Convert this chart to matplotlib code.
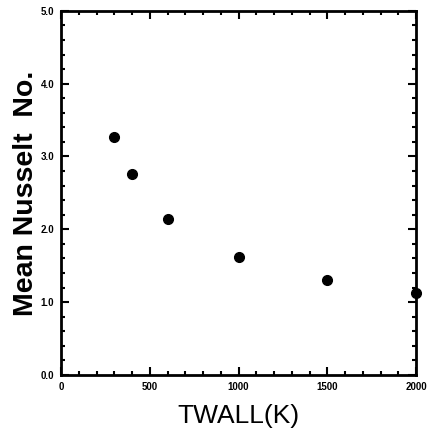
import matplotlib
matplotlib.use("Agg")
import matplotlib.pyplot as plt
from matplotlib.ticker import MultipleLocator

twall = [300, 400, 600, 1000, 1500, 2000]
nusselt = [3.27, 2.76, 2.14, 1.62, 1.30, 1.13]

fig = plt.figure(figsize=(4.33, 4.32), dpi=100)
ax = fig.add_axes([0.141, 0.132, 0.820, 0.843])
ax.plot(twall, nusselt, 'o', color='black', markersize=7, clip_on=False, zorder=5)

ax.set_xlim(0, 2000)
ax.set_ylim(0, 5)
ax.xaxis.set_major_locator(MultipleLocator(500))
ax.xaxis.set_minor_locator(MultipleLocator(100))
ax.yaxis.set_major_locator(MultipleLocator(1.0))
ax.yaxis.set_minor_locator(MultipleLocator(0.2))
ax.yaxis.set_major_formatter(plt.FormatStrFormatter('%.1f'))
ax.tick_params(which='both', direction='in', top=True, right=True, width=1.5, colors='black')
ax.tick_params(which='major', length=6, labelsize=7, pad=5)
ax.tick_params(which='minor', length=3)
for lab in ax.get_xticklabels() + ax.get_yticklabels():
    lab.set_fontweight('bold')
    lab.set_family('Liberation Sans')
for s in ax.spines.values():
    s.set_linewidth(2)

ax.set_xlabel('TWALL(K)', fontsize=19, family='Liberation Sans', labelpad=9)
ax.set_ylabel('Mean Nusselt  No.', fontsize=20.5, family='Liberation Sans',
              fontweight='bold', labelpad=1)

fig.savefig('out.png', dpi=100)
